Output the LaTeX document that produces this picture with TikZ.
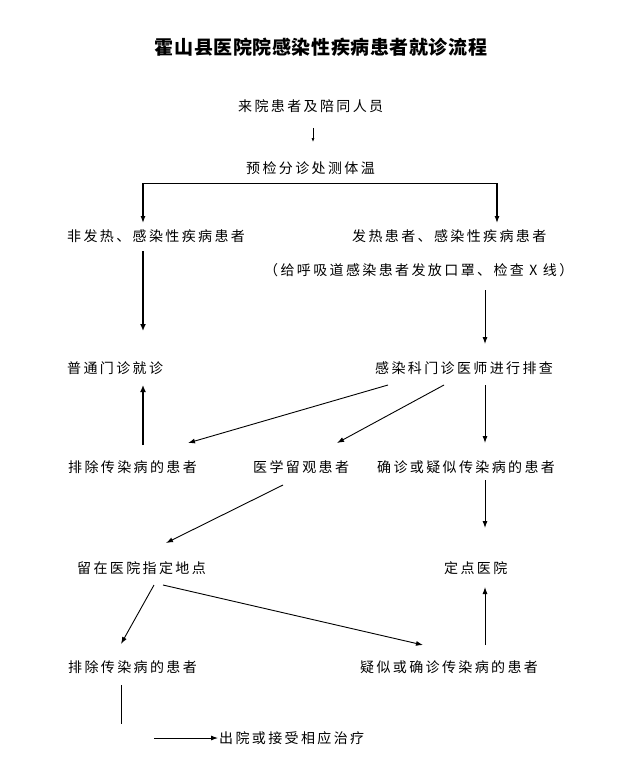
\documentclass[tikz,border=0pt]{standalone}
\usepackage{fontspec}
\setmainfont{Noto Sans CJK SC}
\newfontfamily\cjk[LetterSpace=17]{Noto Sans CJK SC}
\newfontfamily\cjkt[LetterSpace=3]{Noto Sans CJK SC}
\usetikzlibrary{arrows.meta}
\begin{document}
\begin{tikzpicture}[x=1pt,y=-1pt,
  txt/.style={anchor=west,inner sep=0pt,font=\cjk\fontsize{14}{14}\selectfont},
  ttl/.style={inner sep=0pt,font=\cjkt\bfseries\fontsize{19}{19}\selectfont},
  arr/.style={line width=0.9pt,-{Latex[length=7pt,width=5pt]}},
  tarr/.style={line width=1.8pt,-{Latex[length=7pt,width=6pt]}},
  sarr/.style={line width=0.6pt,-{Latex[length=4pt,width=3pt]}},
  plain/.style={line width=0.9pt}]
\useasboundingbox (0,0) rectangle (640,773);
\fill[white] (0,0) rectangle (640,773);
\node[ttl] (title) at (321,47) {霍山县医院院感染性疾病患者就诊流程};
\node[txt] (n1) at (238,106) {来院患者及陪同人员};
\node[txt] (n2) at (246,168) {预检分诊处测体温};
\node[txt] (n3) at (67,236) {非发热、感染性疾病患者};
\node[txt] (n4) at (352,236) {发热患者、感染性疾病患者};
\node[txt] (n5) at (264,270) {（给呼吸道感染患者发放口罩、检查 X 线）};
\node[txt] (n6) at (67,368) {普通门诊就诊};
\node[txt] (n7) at (375,368) {感染科门诊医师进行排查};
\node[txt] (n8) at (68,467) {排除传染病的患者};
\node[txt] (n9) at (253,467) {医学留观患者};
\node[txt] (n10) at (377,467) {确诊或疑似传染病的患者};
\node[txt] (n11) at (77,568) {留在医院指定地点};
\node[txt] (n12) at (444,568) {定点医院};
\node[txt] (n13) at (68,667) {排除传染病的患者};
\node[txt] (n14) at (360,667) {疑似或确诊传染病的患者};
\node[txt] (n15) at (219,738) {出院或接受相应治疗};
% coordinates for connector ends
\coordinate (s1) at (313,128);
\coordinate (s2) at (313,142);
\coordinate (bl) at (143,183);
\coordinate (br) at (497,183);
\coordinate (bl2) at (143,223);
\coordinate (br2) at (497,223);
\coordinate (a3s) at (143,251);
\coordinate (a3e) at (143,331);
\coordinate (a4s) at (485,290);
\coordinate (a4e) at (485,344);
\coordinate (a5s) at (388,385);
\coordinate (a5e) at (188,443);
\coordinate (a6s) at (444,385);
\coordinate (a6e) at (337,443);
\coordinate (a7s) at (485,385);
\coordinate (a7e) at (485,443);
\coordinate (a8s) at (143,445);
\coordinate (a8e) at (143,385);
\coordinate (a9s) at (283,485);
\coordinate (a9e) at (166,543);
\coordinate (a10s) at (485,480);
\coordinate (a10e) at (485,528);
\coordinate (a11s) at (154,585);
\coordinate (a11e) at (121,644);
\coordinate (a12s) at (163,585);
\coordinate (a12e) at (423,645);
\coordinate (a13s) at (485,645);
\coordinate (a13e) at (485,587);
\coordinate (l14s) at (121,685);
\coordinate (l14e) at (121,724);
\coordinate (a15s) at (154,738);
\coordinate (a15e) at (218,738);
\draw[sarr] (s1) -- (s2);
\draw[plain] (bl) -- (br);
\draw[arr,line width=1.2pt] (bl) -- (bl2);
\draw[arr,line width=1.2pt] (br) -- (br2);
\draw[tarr] (a3s) -- (a3e);
\draw[arr] (a4s) -- (a4e);
\draw[arr] (a5s) -- (a5e);
\draw[arr] (a6s) -- (a6e);
\draw[arr] (a7s) -- (a7e);
\draw[tarr] (a8s) -- (a8e);
\draw[arr] (a9s) -- (a9e);
\draw[arr] (a10s) -- (a10e);
\draw[arr] (a11s) -- (a11e);
\draw[arr] (a12s) -- (a12e);
\draw[arr] (a13s) -- (a13e);
\draw[plain] (l14s) -- (l14e);
\draw[arr] (a15s) -- (a15e);
\end{tikzpicture}
\end{document}
